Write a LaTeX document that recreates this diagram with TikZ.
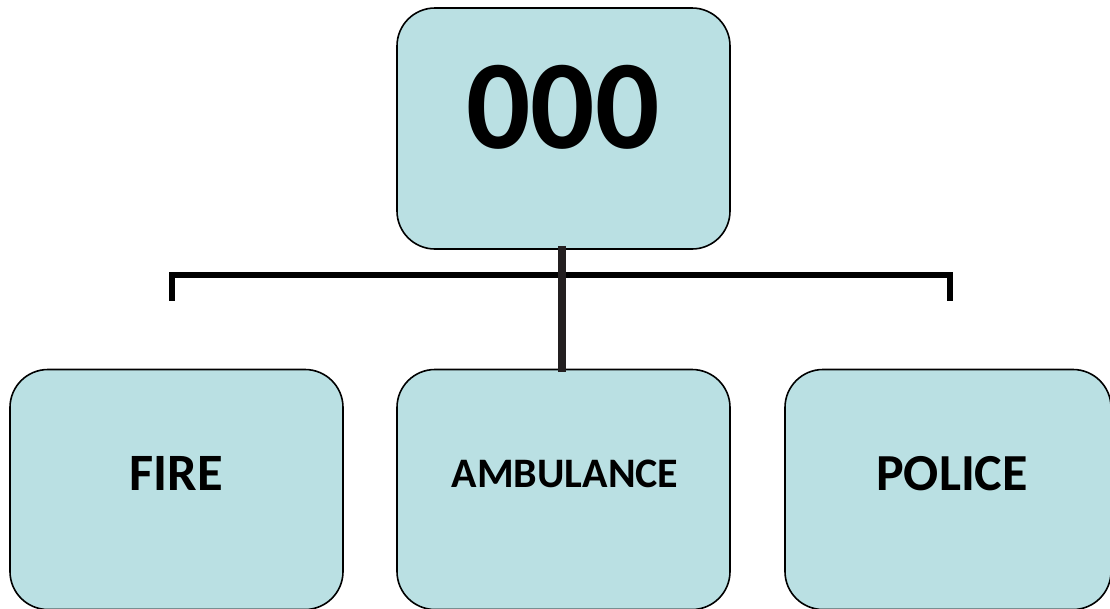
\documentclass[tikz,border=0pt]{standalone}
\usepackage{fontspec}
\setmainfont{Carlito}
\definecolor{boxfill}{RGB}{186,224,227}
\definecolor{stem}{RGB}{35,31,32}
\tikzset{
  card/.style={draw=black, line width=1.6pt, fill=boxfill, rounded corners=38pt, inner sep=0pt},
  lbl/.style={anchor=base, inner sep=0pt, font=\bfseries},
  bracket/.style={line width=6pt, line join=miter, line cap=butt},
  stemline/.style={draw=stem, line width=8pt, line cap=butt}
}
\begin{document}
\begin{tikzpicture}[x=1pt,y=-1pt]
\useasboundingbox (0,0) rectangle (1110,608);
\begin{scope}
\clip (0,0) rectangle (1110,608);
% boxes
\node[card, minimum width=333pt, minimum height=241pt] (top) at (563.5,128.5) {};
\node[card, minimum width=333pt, minimum height=240pt] (fire) at (176.5,489.5) {};
\node[card, minimum width=333pt, minimum height=240pt] (amb) at (563.5,489.5) {};
\node[card, minimum width=326pt, minimum height=240pt] (pol) at (948,489.5) {};
% labels
\node[lbl, font=\bfseries\fontsize{127}{127}\selectfont] (topt) at (563,148) {000};
\node[lbl, font=\bfseries\fontsize{52.5}{52.5}\selectfont] (firet) at (176,490) {FIRE};
\node[lbl, font=\bfseries\fontsize{42}{42}\selectfont] (ambt) at (565,487) {AMBULANCE};
\node[lbl, font=\bfseries\fontsize{52}{52}\selectfont] (polt) at (952,490) {POLICE};
% bracket
\coordinate (bl) at (172,300.7);
\coordinate (br) at (950,300.7);
\draw[bracket] (bl) -- (bl |- 0,274.7) -- (br |- 0,274.7) -- (br);
% stem
\coordinate (s1) at ([xshift=-2pt, yshift=4pt]top.south);
\coordinate (s2) at ([xshift=-2pt, yshift=-3pt]amb.north);
\draw[stemline] (s1) -- (s2);
\end{scope}
\end{tikzpicture}
\end{document}
